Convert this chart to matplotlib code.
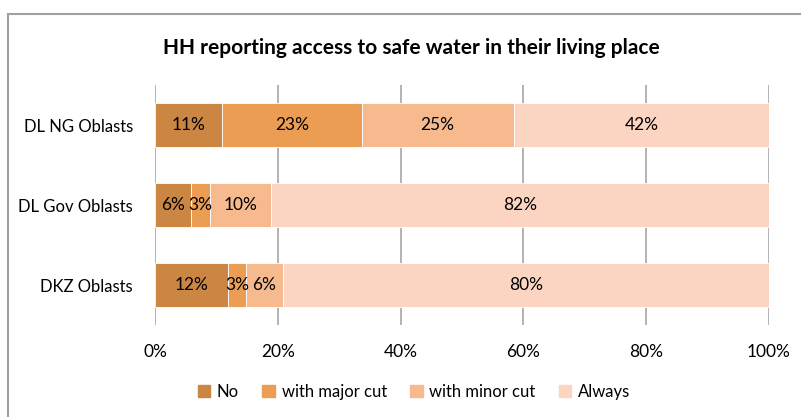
import matplotlib.pyplot as plt
import matplotlib.patches as mpatches
import numpy as np

plt.rcParams['font.family'] = ['Lato', 'DejaVu Sans']

categories = ["DL NG Oblasts", "DL Gov Oblasts", "DKZ Oblasts"]
series_names = ["No", "with major cut", "with minor cut", "Always"]
no_vals = [11, 6, 12]
major_vals = [23, 3, 3]
minor_vals = [25, 10, 6]
always_vals = [42, 82, 80]
colors = ["#CB8644", "#EC9D54", "#F7BA8E", "#FCD5C2"]
xticks = [0, 20, 40, 60, 80, 100]
xtick_labels = ["0%", "20%", "40%", "60%", "80%", "100%"]

fig = plt.figure(figsize=(8.01, 4.17), dpi=100)
ax = fig.add_axes([155 / 801, 1 - 325 / 417, (769 - 155) / 801, 240 / 417])

data = np.array([no_vals, major_vals, minor_vals, always_vals], dtype=float)
totals = data.sum(axis=0)
shares = data / totals * 100
y = np.arange(len(categories))
left = np.zeros(len(categories))
for i, name in enumerate(series_names):
    ax.barh(y, shares[i], left=left, height=0.56, color=colors[i],
            label=name, zorder=3, edgecolor='white', linewidth=0.6)
    for j in range(len(categories)):
        ax.text(left[j] + shares[i][j] / 2, y[j], f"{int(data[i][j])}%",
                ha='center', va='center', fontsize=12.5, color='black', zorder=4)
    left += shares[i]

ax.set_xlim(0, 100)
ax.set_ylim(2.5, -0.5)
ax.set_yticks(y)
ax.set_yticklabels(categories, fontsize=12)
ax.set_xticks(xticks)
ax.set_xticklabels(xtick_labels, fontsize=12.5)
ax.tick_params(axis='both', length=0)
ax.tick_params(axis='y', pad=16)
ax.tick_params(axis='x', pad=14)
for s in ax.spines.values():
    s.set_visible(False)
ax.xaxis.grid(True, color='#A6A6A6', linewidth=1.2, zorder=0)
ax.set_axisbelow(True)

fig.text(411 / 801, 1 - 48 / 417,
         "HH reporting access to safe water in their living place",
         ha='center', va='center', fontsize=15, fontweight='bold')

handles = [mpatches.Patch(color=c, label=n) for c, n in zip(colors, series_names)]
fig.legend(handles=handles, loc='center', bbox_to_anchor=(414 / 801, 1 - 392 / 417),
           ncol=4, frameon=False, fontsize=12, handlelength=0.75, handleheight=0.75,
           columnspacing=1.4, handletextpad=0.4)

frame = mpatches.Rectangle((8 / 801, -0.1), 1.2, 1 - 14 / 417 + 0.1,
                           transform=fig.transFigure, fill=False,
                           edgecolor='#A0A0A0', linewidth=1.5, clip_on=False)
fig.patches.append(frame)

fig.savefig("out.png", dpi=100)
